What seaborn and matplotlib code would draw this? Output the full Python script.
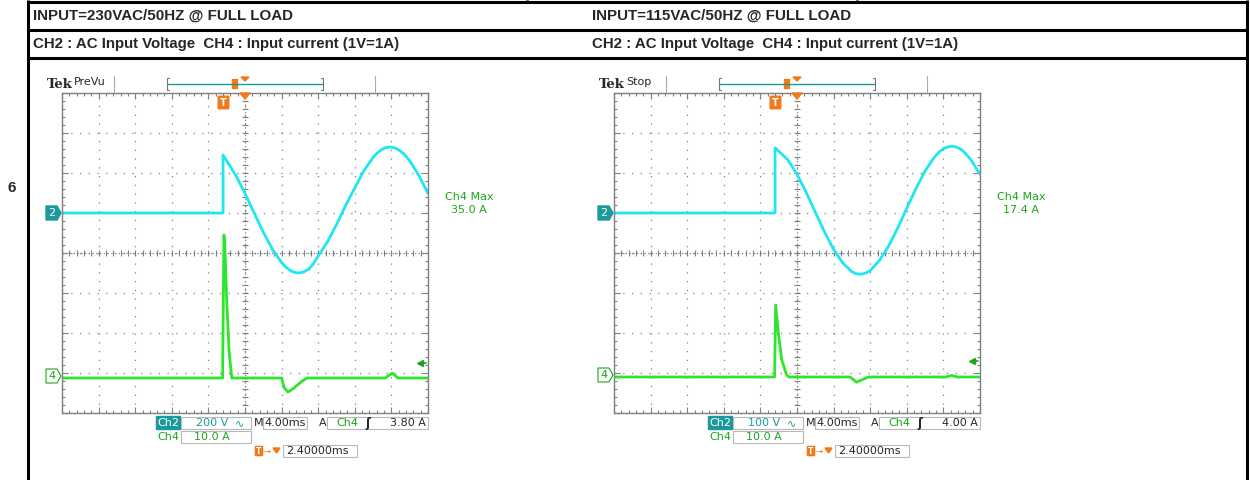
import numpy as np
import pandas as pd
import seaborn as sns
import matplotlib.pyplot as plt
from matplotlib.patches import Polygon, Rectangle, FancyBboxPatch

# time in ms (4 ms/div, 0 = screen centre); CH2 in volts, CH4 in amps
ch2_230_t = [-20, -2.4, -2.4, -1, 0, 1, 2, 3, 4, 4.5, 5, 5.4, 5.85, 6.4, 7, 7.5, 8, 9, 10, 11, 12, 13, 14, 14.5,
             15, 15.4, 15.85, 16.4, 17, 17.5, 18, 19, 20]
ch2_230_v = [0, 0, 290, 188, 98, 0, -96, -182, -248, -272, -289, -297, -300, -295, -280, -252, -215, -145, -58, 38,
             126, 212, 278, 302, 319, 327, 330, 325, 310, 289, 261, 188, 98]
ch4_230_t = [-20, -2.45, -2.3, -2.19, -2.0, -1.75, -1.45, 4.0, 4.3, 4.7, 5.2, 5.8, 6.4, 6.8, 15.3, 16.1, 16.7, 20]
ch4_230_a = [0, 0, 35.7, 32, 19.5, 7, 0, 0, -2.5, -3.5, -2.8, -1.6, -0.5, 0, 0, 1.2, 0, 0]

ch2_115_t = [-20, -2.4, -2.4, -1, 0, 1, 2, 3, 4, 5, 6, 6.5, 7, 7.5, 8, 9, 10, 11, 12, 13, 14, 15, 15.5, 16, 16.45,
             16.9, 17.4, 18, 18.5, 19, 20]
ch2_115_v = [0, 0, 163, 133, 97, 52, 2, -47, -91, -125, -147, -152, -153, -150, -144, -119, -83, -38, 12, 61, 105,
             139, 152, 161, 165, 167, 165, 158, 147, 133, 97]
ch4_115_t = [-20, -2.45, -2.33, -2.04, -1.67, -1.13, -0.87, 5.8, 6.5, 7.8, 16.3, 16.9, 17.5, 20]
ch4_115_a = [0, 0, 18, 11, 4.3, 0.5, 0, 0, -1.3, 0, 0, 0.4, 0, 0]

headers = ['INPUT=230VAC/50HZ @ FULL LOAD', 'INPUT=115VAC/50HZ @ FULL LOAD']
subheaders = ['CH2 : AC Input Voltage  CH4 : Input current (1V=1A)'] * 2
row_label = '6'

CYAN = '#1fe6f2'
GREEN = '#2be62b'
TEAL = '#1b9a9c'
TGREEN = '#1ca51c'
ORANGE = '#f07a1a'
GRID = '#808080'
W, H = 1250, 480
FS = 8

sns.set_theme(style='white')
plt.rcParams['font.family'] = ['DejaVu Sans']

fig = plt.figure(figsize=(12.5, 4.8), dpi=100)

ov = fig.add_axes([0, 0, 1, 1], zorder=5)
ov.set_xlim(0, W)
ov.set_ylim(H, 0)
ov.axis('off')
ov.patch.set_alpha(0)


def box(x1, x2, y, h=12, ec='#b8b8b8', fc='white'):
    ov.add_patch(Rectangle((x1, y - h / 2), x2 - x1, h, fc=fc, ec=ec, lw=0.8))


def draw_scope(x0, c2t, c2v, c2scale, c4t, c4a, c4off, status, c2lab, trig, c4max):
    ax = fig.add_axes([x0 / W, (H - 413) / H, 366 / W, 320 / H])
    d2 = pd.DataFrame({'t': c2t, 'div': 1 + np.array(c2v) / c2scale})
    d4 = pd.DataFrame({'t': c4t, 'div': c4off + np.array(c4a) / 10.0})
    ax.set_xlim(-20, 20)
    ax.set_ylim(-4, 4)
    ax.set_xticks(np.arange(-20, 20.1, 4))
    ax.set_yticks(np.arange(-4, 4.1, 1))
    ax.set_xticks(np.arange(-20, 20.1, 0.8), minor=True)
    ax.set_yticks(np.arange(-4, 4.1, 0.2), minor=True)
    ax.tick_params(which='both', direction='in', top=True, right=True, bottom=True, left=True,
                   labelbottom=False, labelleft=False, color=GRID, width=0.8)
    ax.tick_params(which='major', length=4)
    ax.tick_params(which='minor', length=2.5)
    ax.grid(which='major', color=GRID, ls=(0, (1, 6)), lw=0.9)
    for s in ax.spines.values():
        s.set_color(GRID)
        s.set_linewidth(1.0)
    ax.axhline(0, color=GRID, ls=(0, (1, 2)), lw=0.9)
    ax.axvline(0, color=GRID, ls=(0, (1, 2)), lw=0.9)
    ax.plot(np.arange(-20, 20.1, 0.8), np.zeros(51), ls='none', marker='|', ms=4, color=GRID, mew=0.8)
    ax.plot(np.zeros(41), np.arange(-4, 4.1, 0.2), ls='none', marker='_', ms=4, color=GRID, mew=0.8)
    sns.lineplot(data=d2, x='t', y='div', ax=ax, color=CYAN, lw=2.0, sort=False, estimator=None)
    sns.lineplot(data=d4, x='t', y='div', ax=ax, color=GREEN, lw=2.0, sort=False, estimator=None)
    ax.set_xlabel('')
    ax.set_ylabel('')
    # trigger level arrow
    lvl = c4off + float(trig.split()[0]) / 10.0
    tr = ax.get_yaxis_transform()
    ax.plot([0.978, 0.995], [lvl, lvl], color=TGREEN, lw=1.2, transform=tr)
    ax.plot([0.978], [lvl], marker='<', ms=5, color=TGREEN, transform=tr)

    cx = x0 + 183
    # top status bar
    ov.text(x0 - 15, 84, 'Tek', fontsize=9.5, fontweight='bold', family='DejaVu Serif', va='center', ha='left')
    ov.text(x0 + 12, 82, status, fontsize=8, va='center', ha='left')
    for xs in (x0 + 52, x0 + 313):
        ov.plot([xs, xs], [76, 92], color='#aaaaaa', lw=0.8)
    ov.plot([x0 + 105, x0 + 261], [84, 84], color=TEAL, lw=1.0)
    for xs, d in ((x0 + 105, 2), (x0 + 261, -2)):
        ov.plot([xs + d, xs, xs, xs + d], [78, 78, 90, 90], color='#777777', lw=0.8)
    ov.add_patch(FancyBboxPatch((x0 + 171, 80), 4, 8, boxstyle='round,pad=0.5', fc=ORANGE, ec=ORANGE))
    ov.add_patch(Polygon([[cx - 4, 77], [cx + 4, 77], [cx, 81]], closed=True, fc=ORANGE, ec=ORANGE))
    # trigger markers
    ov.add_patch(FancyBboxPatch((x0 + 157, 97), 9, 11, boxstyle='round,pad=0.8', fc=ORANGE, ec=ORANGE))
    ov.text(x0 + 161.5, 102.5, 'T', color='white', fontsize=7, fontweight='bold', ha='center', va='center')
    ov.add_patch(Polygon([[cx - 5, 93], [cx + 5, 93], [cx, 99]], closed=True, fc=ORANGE, ec=ORANGE))
    # ground markers
    ov.add_patch(Polygon([[x0 - 16, 206], [x0 - 5, 206], [x0 - 1, 213], [x0 - 5, 220], [x0 - 16, 220]],
                         closed=True, fc=TEAL, ec=TEAL))
    ov.text(x0 - 10, 213, '2', color='white', fontsize=FS, ha='center', va='center')
    g4 = 253 - c4off * 40 - 2
    ov.add_patch(Polygon([[x0 - 16, g4 - 7], [x0 - 5, g4 - 7], [x0 - 1, g4], [x0 - 5, g4 + 7], [x0 - 16, g4 + 7]],
                         closed=True, fc='white', ec=TGREEN, lw=0.8))
    ov.text(x0 - 10, g4, '4', color=TGREEN, fontsize=FS, ha='center', va='center')
    # max readout
    ov.text(x0 + 407, 197, 'Ch4 Max', color=TGREEN, fontsize=FS, ha='center', va='center')
    ov.text(x0 + 407, 210, c4max, color=TGREEN, fontsize=FS, ha='center', va='center')
    # bottom readouts
    ov.add_patch(Rectangle((x0 + 94, 416), 24, 13, fc=TEAL, ec=TEAL))
    ov.text(x0 + 106, 423, 'Ch2', color='white', fontsize=FS, ha='center', va='center')
    box(x0 + 119, x0 + 189, 423)
    ov.text(x0 + 150, 423, c2lab, color=TEAL, fontsize=FS, ha='center', va='center')
    ov.text(x0 + 177, 423, '∿', color=TEAL, fontsize=FS, ha='center', va='center')
    ov.text(x0 + 192, 423, 'M', fontsize=FS, ha='left', va='center')
    box(x0 + 201, x0 + 245, 423)
    ov.text(x0 + 223, 423, '4.00ms', fontsize=FS, ha='center', va='center')
    ov.text(x0 + 257, 423, 'A', fontsize=FS, ha='left', va='center')
    box(x0 + 265, x0 + 366, 423)
    ov.text(x0 + 274, 423, 'Ch4', color=TGREEN, fontsize=FS, ha='left', va='center')
    ov.text(x0 + 306, 423, 'ʃ', fontsize=8.5, fontweight='bold', ha='center', va='center')
    ov.text(x0 + 364, 423, trig, fontsize=FS, ha='right', va='center')
    ov.text(x0 + 95, 437, 'Ch4', color=TGREEN, fontsize=FS, ha='left', va='center')
    box(x0 + 119, x0 + 189, 437)
    ov.text(x0 + 150, 437, '10.0 A', color=TGREEN, fontsize=FS, ha='center', va='center')
    ov.add_patch(FancyBboxPatch((x0 + 194, 447), 6, 8, boxstyle='round,pad=0.6', fc=ORANGE, ec=ORANGE))
    ov.text(x0 + 197, 451, 'T', color='white', fontsize=5.5, fontweight='bold', ha='center', va='center')
    ov.text(x0 + 202, 451, '→', color=ORANGE, fontsize=6, ha='left', va='center')
    ov.add_patch(Polygon([[x0 + 211, 448], [x0 + 218, 448], [x0 + 214.5, 453]], closed=True, fc=ORANGE, ec=ORANGE))
    box(x0 + 221, x0 + 295, 451)
    ov.text(x0 + 224, 451, '2.40000ms', fontsize=FS, ha='left', va='center')


draw_scope(62, ch2_230_t, ch2_230_v, 200, ch4_230_t, ch4_230_a, -3.125, 'PreVu', '200 V', '3.80 A', '35.0 A')
draw_scope(614, ch2_115_t, ch2_115_v, 100, ch4_115_t, ch4_115_a, -3.1, 'Stop', '100 V', '4.00 A', '17.4 A')

# table frame
lw_t = 2.2
for y in (1.5, 29.5, 57.5):
    ov.plot([28, 1248], [y, y], color='black', lw=lw_t, solid_capstyle='butt')
for x in (28, 1247):
    ov.plot([x, x], [0, H], color='black', lw=lw_t, solid_capstyle='butt')
for x in (527, 857):
    ov.plot([x, x], [0, 3], color='black', lw=lw_t, solid_capstyle='butt')

hfont = ['Liberation Sans Narrow', 'Liberation Sans', 'DejaVu Sans']
for xh, t1, t2 in zip((33, 592), headers, subheaders):
    ov.text(xh, 16, t1, fontsize=10.9, fontweight='bold', family=hfont, ha='left', va='center')
    ov.text(xh, 44, t2, fontsize=10.8, fontweight='bold', family=hfont, ha='left', va='center')
ov.text(12, 188, row_label, fontsize=11, fontweight='bold', family=['Liberation Sans', 'DejaVu Sans'],
        ha='center', va='center')

fig.savefig('out.png', dpi=100)
